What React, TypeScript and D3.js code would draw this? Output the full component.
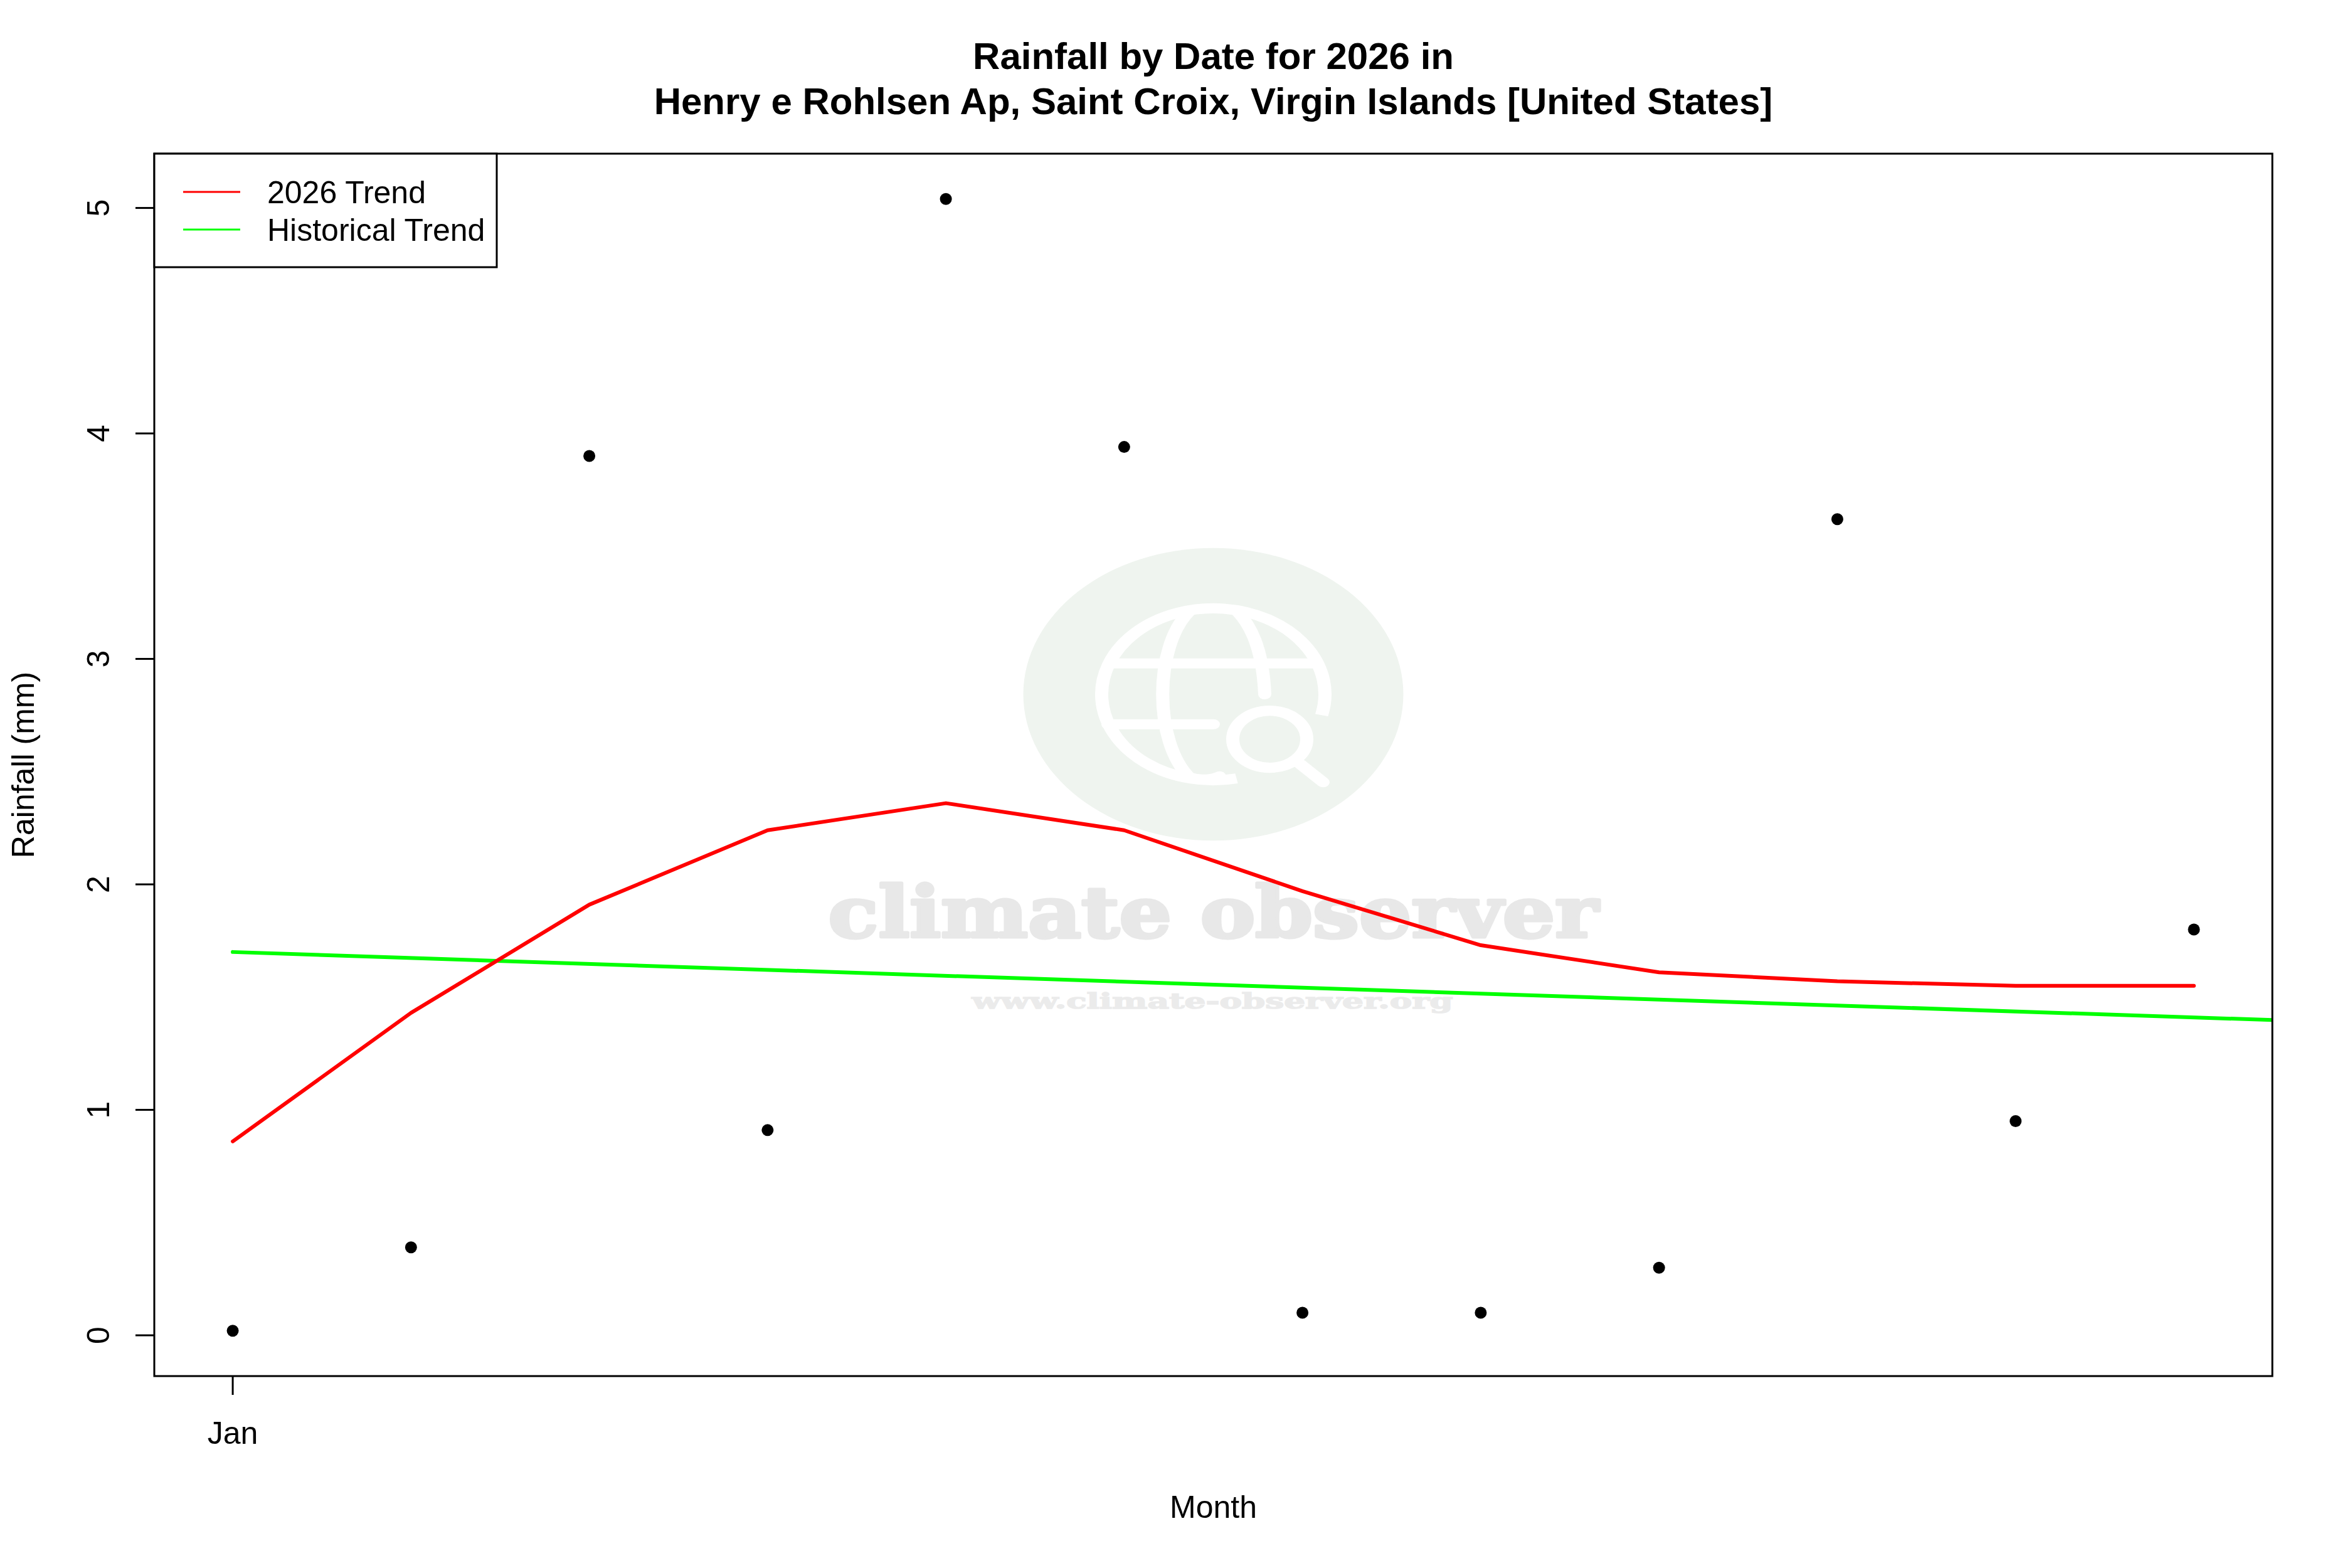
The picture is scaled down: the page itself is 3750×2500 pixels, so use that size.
import React from "react";
import * as d3 from "d3";

const months = ["Jan", "Feb", "Mar", "Apr", "May", "Jun", "Jul", "Aug", "Sep", "Oct", "Nov", "Dec"];
const rainfall = [0.02, 0.39, 3.9, 0.91, 5.04, 3.94, 0.1, 0.1, 0.3, 3.62, 0.95, 1.8];
const trend2026 = [0.86, 1.43, 1.91, 2.24, 2.36, 2.24, 1.97, 1.73, 1.61, 1.57, 1.55, 1.55];
const historicalStart = 1.70; // at Jan
const historicalEnd = 1.41; // at Dec
const yTicks = [0, 1, 2, 3, 4, 5];
const xTickLabels = ["Jan"];
const legendLabels = ["2026 Trend", "Historical Trend"];
const legendColors = ["#ff0000", "#00ff00"];

const W = 3750;
const H = 2500;
const L = 246, R = 3623, T = 245, B = 2194;
const FONT = "'Liberation Sans', Arial, Helvetica, sans-serif";

export default function App() {
  const n = months.length;
  const xPad = (n - 1) * 0.04;
  const x = d3.scaleLinear().domain([1 - xPad, n + xPad]).range([L, R]);
  const yMin = d3.min(rainfall) as number, yMax = d3.max(rainfall) as number;
  const yPad = (yMax - yMin) * 0.04;
  const y = d3.scaleLinear().domain([yMin - yPad, yMax + yPad]).range([B, T]);

  const line = d3.line<[number, number]>().x((d) => x(d[0])).y((d) => y(d[1]));
  const redPts: [number, number][] = trend2026.map((v, i) => [i + 1, v]);
  const slope = (historicalEnd - historicalStart) / (n - 1);
  const xEnd = n + xPad;
  const greenPts: [number, number][] = [
    [1, historicalStart],
    [xEnd, historicalStart + slope * (xEnd - 1)],
  ];

  // watermark geometry (local circular frame, scaled vertically)
  const wx = (L + R) / 2;
  const wy = 1107;
  const sy = 0.77;
  const arc = d3.arc()({
    innerRadius: 178,
    outerRadius: 178,
    startAngle: (90 + 78) * Math.PI / 180,
    endAngle: (90 + 14 + 360) * Math.PI / 180,
  } as any);
  const wmStroke = "#ffffff";
  const sw = 21;

  return (
    <svg width={W} height={H} style={{ position: "absolute", left: 0, top: 0, background: "#fff" }} fontFamily={FONT}>
      <rect x={0} y={0} width={W} height={H} fill="#ffffff" />
      {/* Title */}
      <text x={(L + R) / 2} y={110} textAnchor="middle" fontSize={60} fontWeight="bold">Rainfall by Date for 2026 in</text>
      <text x={(L + R) / 2} y={182} textAnchor="middle" fontSize={60} fontWeight="bold">Henry e Rohlsen Ap, Saint Croix, Virgin Islands [United States]</text>

      {/* Watermark */}
      <g transform={`translate(${wx},${wy}) scale(1,${sy})`}>
        <circle cx={0} cy={0} r={303} fill="#eff4ef" />
        <g fill="none" stroke={wmStroke} strokeWidth={sw} strokeLinecap="round">
          <path d={arc as string} />
          <line x1={-168} y1={-64} x2={168} y2={-64} strokeLinecap="butt" />
          <line x1={-168} y1={62} x2={0} y2={62} />
          <path d="M -38 -172 C -95 -100 -95 100 -38 172 C -20 180 0 176 10 170" />
          <path d="M 38 -172 C 70 -130 80 -60 82 0" />
          <circle cx={90} cy={93} r={59} />
          <line x1={139} y1={145} x2={175} y2={182} />
        </g>
      </g>
      <text x={wx} y={1494} textAnchor="middle" fontFamily="'DejaVu Serif', serif" fontWeight="bold" fontSize={112}
        fill="#e8e8e8" stroke="#e8e8e8" strokeWidth={5} strokeLinejoin="round"
        textLength={1228} lengthAdjust="spacingAndGlyphs">climate observer</text>
      <text x={1933} y={1608} textAnchor="middle" fontFamily="'DejaVu Serif', serif" fontWeight="bold" fontSize={34}
        fill="#ebebeb" stroke="#ebebeb" strokeWidth={1.5}
        textLength={767} lengthAdjust="spacingAndGlyphs">www.climate-observer.org</text>

      {/* Data */}
      <defs>
        <clipPath id="plotclip"><rect x={L} y={T} width={R - L} height={B - T} /></clipPath>
      </defs>
      <g clipPath="url(#plotclip)">
        <path d={line(greenPts) as string} fill="none" stroke="#00ff00" strokeWidth={6} strokeLinecap="round" />
        <path d={line(redPts) as string} fill="none" stroke="#ff0000" strokeWidth={6} strokeLinecap="round" strokeLinejoin="round" />
        {rainfall.map((v, i) => (
          <circle key={i} cx={x(i + 1)} cy={y(v)} r={9.5} fill="#000" />
        ))}
      </g>

      {/* Box */}
      <rect x={L} y={T} width={R - L} height={B - T} fill="none" stroke="#000" strokeWidth={3} />

      {/* Y axis */}
      {yTicks.map((t) => (
        <g key={t}>
          <line x1={L - 30} x2={L} y1={y(t)} y2={y(t)} stroke="#000" strokeWidth={3} />
          <text transform={`translate(174,${y(t)}) rotate(-90)`} textAnchor="middle" fontSize={50}>{t}</text>
        </g>
      ))}
      {/* X axis */}
      {xTickLabels.map((lab, i) => (
        <g key={lab}>
          <line x1={x(i + 1)} x2={x(i + 1)} y1={B} y2={B + 30} stroke="#000" strokeWidth={3} />
          <text x={x(i + 1)} y={2302} textAnchor="middle" fontSize={50}>{lab}</text>
        </g>
      ))}
      <text x={(L + R) / 2} y={2420} textAnchor="middle" fontSize={50}>Month</text>
      <text transform={`translate(54,${(T + B) / 2}) rotate(-90)`} textAnchor="middle" fontSize={50}>Rainfall (mm)</text>

      {/* Legend */}
      <rect x={L} y={T} width={792 - L} height={426 - T} fill="#fff" stroke="#000" strokeWidth={3} />
      {legendLabels.map((lab, i) => (
        <g key={lab}>
          <line x1={292} x2={383} y1={306 + i * 60} y2={306 + i * 60} stroke={legendColors[i]} strokeWidth={3} />
          <text x={426} y={306 + i * 60 + 18} fontSize={50}>{lab}</text>
        </g>
      ))}
    </svg>
  );
}
